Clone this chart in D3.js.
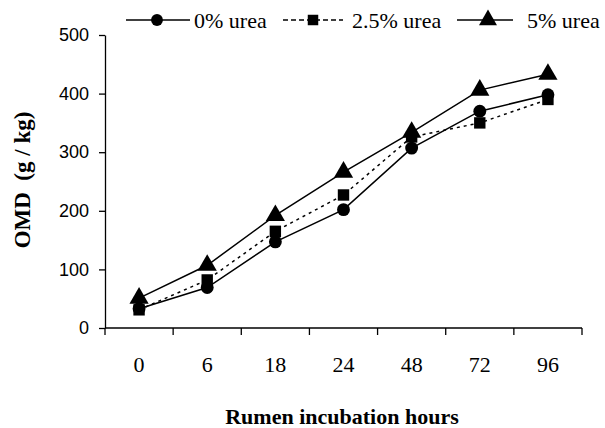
<!DOCTYPE html>
<html>
<head>
<meta charset="utf-8">
<script src="https://cdn.jsdelivr.net/npm/d3@7"></script>
<style>
  body { margin: 0; background: #fff; }
  svg { display: block; }
  .axis path, .axis line { stroke: #000; stroke-width: 1.3; }
</style>
</head>
<body>
<div id="chart"></div>
<script>
"use strict";
// incubation hours (categories) and OMD values g/kg
var hours = ["0", "6", "18", "24", "48", "72", "96"];
var urea0 = [33, 69, 147, 202, 307, 370, 398];
var urea25 = [31, 82, 165, 227, 326, 350, 390];
var urea5 = [51, 107, 192, 266, 334, 406, 433];
var yTicks = [0, 100, 200, 300, 400, 500];

var series = [
  { name: "0% urea", values: urea0, shape: d3.symbolCircle, size: 130, dash: null, legendDash: null },
  { name: "2.5% urea", values: urea25, shape: d3.symbolSquare, size: 130, dash: "3,4", legendDash: "5,3" },
  { name: "5% urea", values: urea5, shape: d3.symbolTriangle, size: 160, dash: null, legendDash: null }
];

var w = 605, h = 428;
var svg = d3.select("#chart").append("svg").attr("width", w).attr("height", h);

var x = d3.scaleBand().domain(hours).range([105, 582]).padding(0);
var y = d3.scaleLinear().domain([0, 500]).range([328, 35]);

// y axis
var yAxis = svg.append("g")
  .attr("class", "axis")
  .attr("transform", "translate(105,0)")
  .call(d3.axisLeft(y).tickValues(yTicks).tickSize(6).tickPadding(10).tickSizeOuter(0));
yAxis.selectAll("text")
  .style("font-family", "'Liberation Sans', Arial, sans-serif")
  .style("font-size", "18px")
  .attr("fill", "#000");

// x axis: ticks sit on band edges, labels in band centres
var xAxisG = svg.append("g")
  .attr("class", "axis")
  .attr("transform", "translate(0,328)");
xAxisG.append("line")
  .attr("x1", 105).attr("x2", 582).attr("y1", 0).attr("y2", 0)
  .attr("stroke", "#000").attr("stroke-width", 1.3);
var edges = hours.map(function(d) { return x(d); }).concat([x.range()[1]]);
xAxisG.selectAll(".edge-tick").data(edges).enter().append("line")
  .attr("x1", function(d) { return d; })
  .attr("x2", function(d) { return d; })
  .attr("y1", 0).attr("y2", 7)
  .attr("stroke", "#000").attr("stroke-width", 1.3);
xAxisG.selectAll(".xlab").data(hours).enter().append("text")
  .attr("x", function(d) { return x(d) + x.bandwidth() / 2; })
  .attr("y", 44)
  .attr("text-anchor", "middle")
  .style("font-family", "'Liberation Serif', 'Times New Roman', serif")
  .style("font-size", "22px")
  .text(function(d) { return d; });

// axis titles
svg.append("text")
  .attr("x", 342).attr("y", 424)
  .attr("text-anchor", "middle")
  .style("font-family", "'Liberation Serif', 'Times New Roman', serif")
  .style("font-size", "22px")
  .style("font-weight", "bold")
  .text("Rumen incubation hours");

svg.append("text")
  .attr("transform", "translate(30,180) rotate(-90)")
  .attr("text-anchor", "middle")
  .style("font-family", "'Liberation Serif', 'Times New Roman', serif")
  .style("font-size", "23px")
  .style("font-weight", "bold")
  .attr("xml:space", "preserve")
  .text("OMD  (g / kg)");

// lines
var line = d3.line()
  .x(function(d, i) { return x(hours[i]) + x.bandwidth() / 2; })
  .y(function(d) { return y(d); });

series.forEach(function(s) {
  svg.append("path")
    .datum(s.values)
    .attr("fill", "none")
    .attr("stroke", "#000")
    .attr("stroke-width", 1.5)
    .attr("stroke-dasharray", s.dash)
    .attr("d", line);
});

// markers
series.forEach(function(s) {
  svg.append("g").selectAll("path").data(s.values).enter().append("path")
    .attr("d", d3.symbol().type(s.shape).size(s.size)())
    .attr("transform", function(d, i) {
      return "translate(" + (x(hours[i]) + x.bandwidth() / 2) + "," + y(d) + ")";
    })
    .attr("fill", "#000");
});

// legend
var legendItems = [
  { x1: 126, x2: 190, mx: 157, tx: 194 },
  { x1: 283, x2: 343, mx: 313, tx: 352 },
  { x1: 457, x2: 513, mx: 488, tx: 527 }
];
var ly = 20;
var leg = svg.append("g");
series.forEach(function(s, i) {
  var p = legendItems[i];
  leg.append("line")
    .attr("x1", p.x1).attr("x2", p.x2).attr("y1", ly).attr("y2", ly)
    .attr("stroke", "#000").attr("stroke-width", 1.5)
    .attr("stroke-dasharray", s.legendDash);
  leg.append("path")
    .attr("d", d3.symbol().type(s.shape).size(s.size - 20)())
    .attr("transform", "translate(" + p.mx + "," + ly + ")")
    .attr("fill", "#000");
  leg.append("text")
    .attr("x", p.tx).attr("y", ly + 8)
    .style("font-family", "'Liberation Serif', 'Times New Roman', serif")
    .style("font-size", "22px")
    .text(s.name);
});
</script>
</body>
</html>
